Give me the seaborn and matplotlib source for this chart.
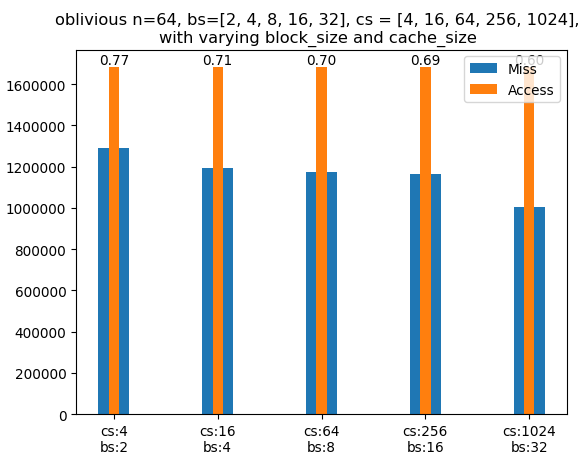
import pandas as pd
import matplotlib
matplotlib.use("Agg")
import matplotlib.pyplot as plt
import seaborn as sns

# -------------------------------
# Data
# -------------------------------
cache_sizes = [4, 16, 64, 256, 1024]
block_sizes = [2, 4, 8, 16, 32]
miss_counts = [1292000, 1194000, 1175000, 1162000, 1005000]
access_counts = [1683000, 1683000, 1683000, 1683000, 1683000]

labels = [f"cs:{c}\nbs:{b}" for c, b in zip(cache_sizes, block_sizes)]
df = pd.DataFrame({"config": labels, "Miss": miss_counts, "Access": access_counts})

fig = plt.figure(figsize=(5.86, 4.6), dpi=100)
ax = fig.add_axes([0.1297, 0.0978, 0.8379, 0.7920])

sns.barplot(data=df, x="config", y="Miss", color="#1f77b4", width=0.3,
            saturation=1, errorbar=None, ax=ax)
sns.barplot(data=df, x="config", y="Access", color="#ff7f0e", width=0.1,
            saturation=1, errorbar=None, ax=ax)

# miss ratio on top of each access bar
for i, (m, a) in enumerate(zip(miss_counts, access_counts)):
    ax.text(i, a, f"{m / a:.2f}", ha="center", va="bottom", fontsize=9.8)

ax.set_xlim(-0.365, len(labels) - 1 + 0.365)
ax.set_ylim(0, max(access_counts) * 1.05)
ax.ticklabel_format(style="plain", axis="y")
ax.set_xlabel("")
ax.set_ylabel("")
ax.tick_params(labelsize=9.8)

ax.legend(handles=[ax.containers[0], ax.containers[1]], labels=["Miss", "Access"],
          loc="upper right", fontsize=9.8)

ax.set_title("oblivious n=64, bs=[2, 4, 8, 16, 32], cs = [4, 16, 64, 256, 1024],\n"
             "with varying block_size and cache_size", fontsize=11.7, x=0.492)

plt.savefig("out.png", dpi=100)
plt.close()
